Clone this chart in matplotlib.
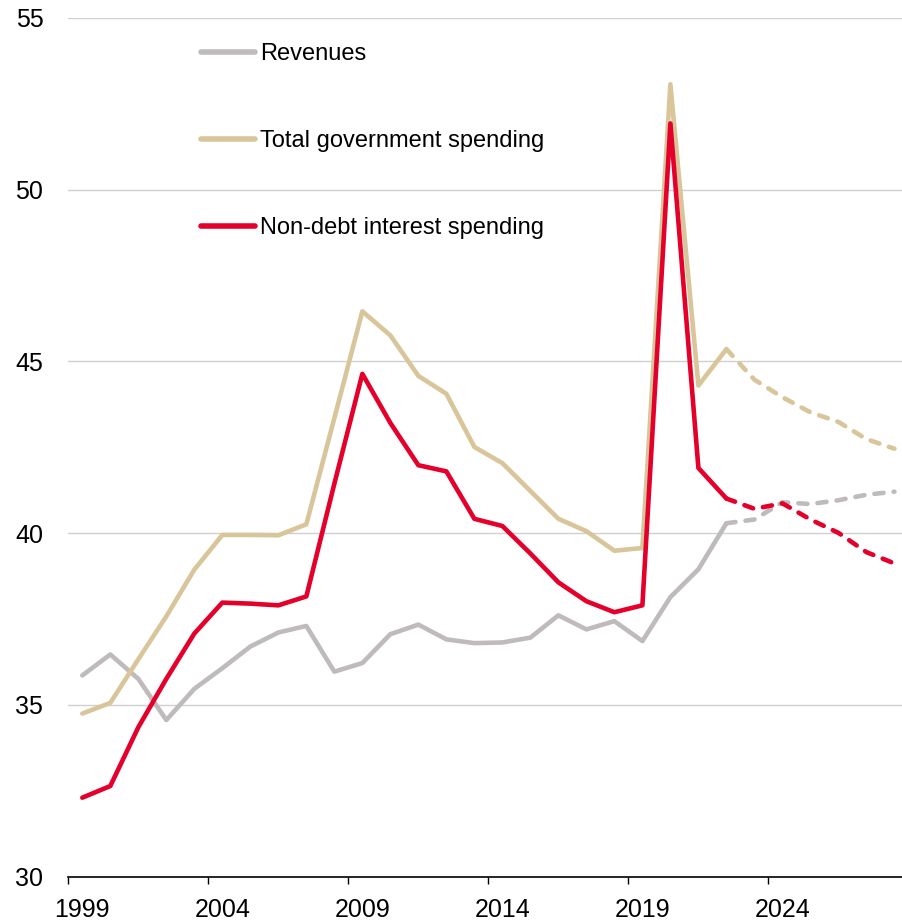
import matplotlib
matplotlib.use("Agg")
import matplotlib.pyplot as plt
from matplotlib.lines import Line2D

plt.rcParams["font.family"] = ["Liberation Sans", "DejaVu Sans"]

years = [1999, 2000, 2001, 2002, 2003, 2004, 2005, 2006, 2007, 2008,
         2009, 2010, 2011, 2012, 2013, 2014, 2015, 2016, 2017, 2018,
         2019, 2020, 2021, 2022, 2023, 2024, 2025, 2026, 2027, 2028]

revenues = [35.86, 36.47, 35.76, 34.56, 35.47, 36.07, 36.70, 37.11, 37.30, 35.97,
            36.22, 37.06, 37.34, 36.91, 36.80, 36.82, 36.96, 37.61, 37.20, 37.44,
            36.86, 38.14, 38.95, 40.29, 40.40, 40.90, 40.85, 40.96, 41.12, 41.21]

total_spending = [34.75, 35.06, 36.33, 37.58, 38.94, 39.95, 39.95, 39.94, 40.26, 43.35,
                  46.46, 45.76, 44.58, 44.06, 42.51, 42.04, 41.23, 40.42, 40.06, 39.49,
                  39.57, 53.07, 44.30, 45.36, 44.47, 43.96, 43.52, 43.24, 42.74, 42.46]

non_debt_spending = [32.30, 32.64, 34.35, 35.76, 37.08, 37.98, 37.95, 37.90, 38.16, 41.44,
                     44.64, 43.21, 41.98, 41.80, 40.42, 40.21, 39.41, 38.57, 38.02, 37.70,
                     37.90, 51.93, 41.90, 41.01, 40.71, 40.87, 40.40, 40.01, 39.45, 39.12]

labels = ["Revenues", "Total government spending", "Non-debt interest spending"]
colors = ["#bfbbbb", "#d9c59a", "#e4002b"]

last_actual = 2022   # projections start after this year
x_ticks = [1999, 2004, 2009, 2014, 2019, 2024]

fig = plt.figure(figsize=(9.02, 9.22), dpi=100)
ax = fig.add_axes([68.3 / 902, 45.3 / 922, 1 - 68.3 / 902, (876.7 - 18) / 922])

# each year is a category; marks and labels sit in the middle of it
xs = [y + 0.5 for y in years]
split = years.index(last_actual)

handles = []
for series, color, label in zip([revenues, total_spending, non_debt_spending], colors, labels):
    ax.plot(xs[:split + 1], series[:split + 1], color=color, lw=3.3,
            solid_joinstyle="round", solid_capstyle="round", zorder=3)
    ax.plot(xs[split:], series[split:], color=color, lw=3.3, linestyle=(0, (2.0, 2.2)),
            dash_capstyle="round", zorder=3)
    handles.append(Line2D([], [], color=color, lw=4, solid_capstyle="round"))

ax.set_xlim(1999, 2028.77)
ax.set_ylim(30, 55)
ax.set_yticks([30, 35, 40, 45, 50, 55])

# tick marks on category edges, labels at category centres
ax.set_xticks(x_ticks)
ax.set_xticklabels([])
ax.set_xticks([t + 0.5 for t in x_ticks], minor=True)
ax.set_xticklabels([str(t) for t in x_ticks], minor=True)

ax.grid(axis="y", color="#d0d0d0", lw=1)
ax.set_axisbelow(True)
for side in ["left", "right", "top"]:
    ax.spines[side].set_visible(False)
ax.spines["bottom"].set_color("black")
ax.spines["bottom"].set_linewidth(1.2)

ax.tick_params(axis="x", which="major", direction="out", length=5, width=1, color="black")
ax.tick_params(axis="x", which="minor", length=0, labelsize=18, pad=15)
ax.tick_params(axis="y", length=0, labelsize=18, pad=18)

ax.legend(handles, labels, loc="upper left", bbox_to_anchor=(201 / 902, (922 - 43) / 922),
          bbox_transform=fig.transFigure, frameon=False, fontsize=17,
          handlelength=2.3, handletextpad=0.2, labelspacing=2.75,
          borderpad=0, borderaxespad=0)

fig.savefig("out.png", dpi=100)
